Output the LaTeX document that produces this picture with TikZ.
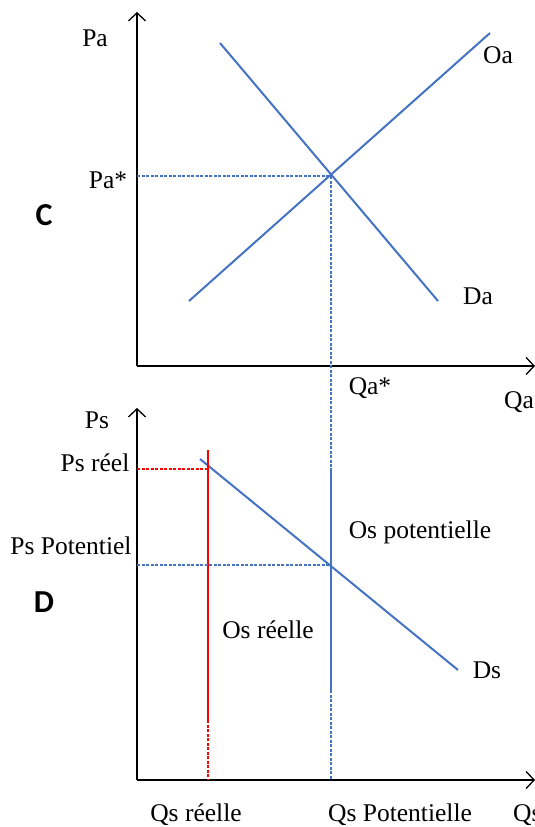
\documentclass[tikz,border=0pt]{standalone}
\usepackage{fontspec}
\setmainfont{Liberation Serif}
\newfontfamily\panelfont{Carlito}
\usetikzlibrary{arrows.meta}
\definecolor{curveblue}{RGB}{68,114,196}
\begin{document}
\begin{tikzpicture}[x=1pt,y=-1pt,
  axis/.style={line width=1.3pt,black,-{Straight Barb[length=8pt,width=17pt,line width=1.3pt]}},
  curve/.style={line width=2pt,curveblue},
  bluedash/.style={line width=1.1pt,curveblue,dash pattern=on 3pt off 1.5pt},
  redline/.style={line width=1.6pt,red},
  reddash/.style={line width=1.1pt,red,dash pattern=on 3pt off 1.5pt},
  lbl/.style={font=\fontsize{25.5}{30}\selectfont,inner sep=0pt},
  panel/.style={font=\panelfont\bfseries\fontsize{32}{36}\selectfont,inner sep=0pt}]
\useasboundingbox (0,0) rectangle (535,827);
% ---------- top chart ----------
\coordinate (O1) at (137,366);
\coordinate (Ytop1) at (137,12);
\coordinate (Xend1) at (535,366);
\draw[axis] (O1) -- (Ytop1);
\draw[axis] (O1) -- (Xend1);
\coordinate (daA) at (220,43);
\coordinate (daB) at (438,301);
\coordinate (oaA) at (189,301);
\coordinate (oaB) at (490,33);
\draw[curve] (daA) -- (daB);
\draw[curve] (oaA) -- (oaB);
\coordinate (E1) at (331,176);
\coordinate (paAx) at (137,176);
\draw[bluedash] (paAx) -- (E1);
\node[lbl] (Pa) at (95,38) {Pa};
\node[lbl] (Pastar) at (108,180) {Pa*};
\node[panel] (C) at (44,215) {C};
\node[lbl] (Oa) at (498,55) {Oa};
\node[lbl] (Da) at (478,296) {Da};
\node[lbl] (Qastar) at (370,388) {Qa*};
\node[lbl] (Qa) at (519,402) {Qa};
% ---------- bottom chart ----------
\coordinate (O2) at (137,780);
\coordinate (Ytop2) at (137,408);
\coordinate (Xend2) at (535,780);
\draw[axis] (O2) -- (Ytop2);
\draw[axis] (O2) -- (Xend2);
\coordinate (dsA) at (200,459);
\coordinate (dsB) at (458,670);
\draw[curve] (dsA) -- (dsB);
% blue vertical: dashed, solid, dashed
\coordinate (bv1) at (331,468);
\coordinate (bv2) at (331,690);
\coordinate (bvEnd) at (331,780);
\draw[bluedash] (E1) -- (bv1);
\draw[line width=1.6pt,curveblue] (bv1) -- (bv2);
\draw[bluedash] (bv2) -- (bvEnd);
% red vertical
\coordinate (rv0) at (208,450);
\coordinate (rv1) at (208,720);
\coordinate (rvEnd) at (208,780);
\draw[redline] (rv0) -- (rv1);
\draw[reddash] (rv1) -- (rvEnd);
% horizontal dashed
\coordinate (psrAx) at (137,469);
\coordinate (psrPt) at (208,469);
\draw[reddash] (psrAx) -- (psrPt);
\coordinate (pspAx) at (137,565);
\coordinate (pspPt) at (331,565);
\draw[bluedash] (pspAx) -- (pspPt);
\node[lbl] (Ps) at (97,420) {Ps};
\node[lbl] (Psreel) at (95,463) {Ps réel};
\node[lbl] (Pspot) at (71,546) {Ps Potentiel};
\node[panel] (D) at (44,602) {D};
\node[lbl] (Ds) at (487,670) {Ds};
\node[lbl] (Ospot) at (420,532) {Os potentielle};
\node[lbl] (Osreel) at (268,630) {Os réelle};
\node[lbl] (Qsreel) at (196,815) {Qs réelle};
\node[lbl] (Qspot) at (400,815) {Qs Potentielle};
\node[lbl,anchor=west] (Qs) at (513,815) {Qs};
\end{tikzpicture}
\end{document}
